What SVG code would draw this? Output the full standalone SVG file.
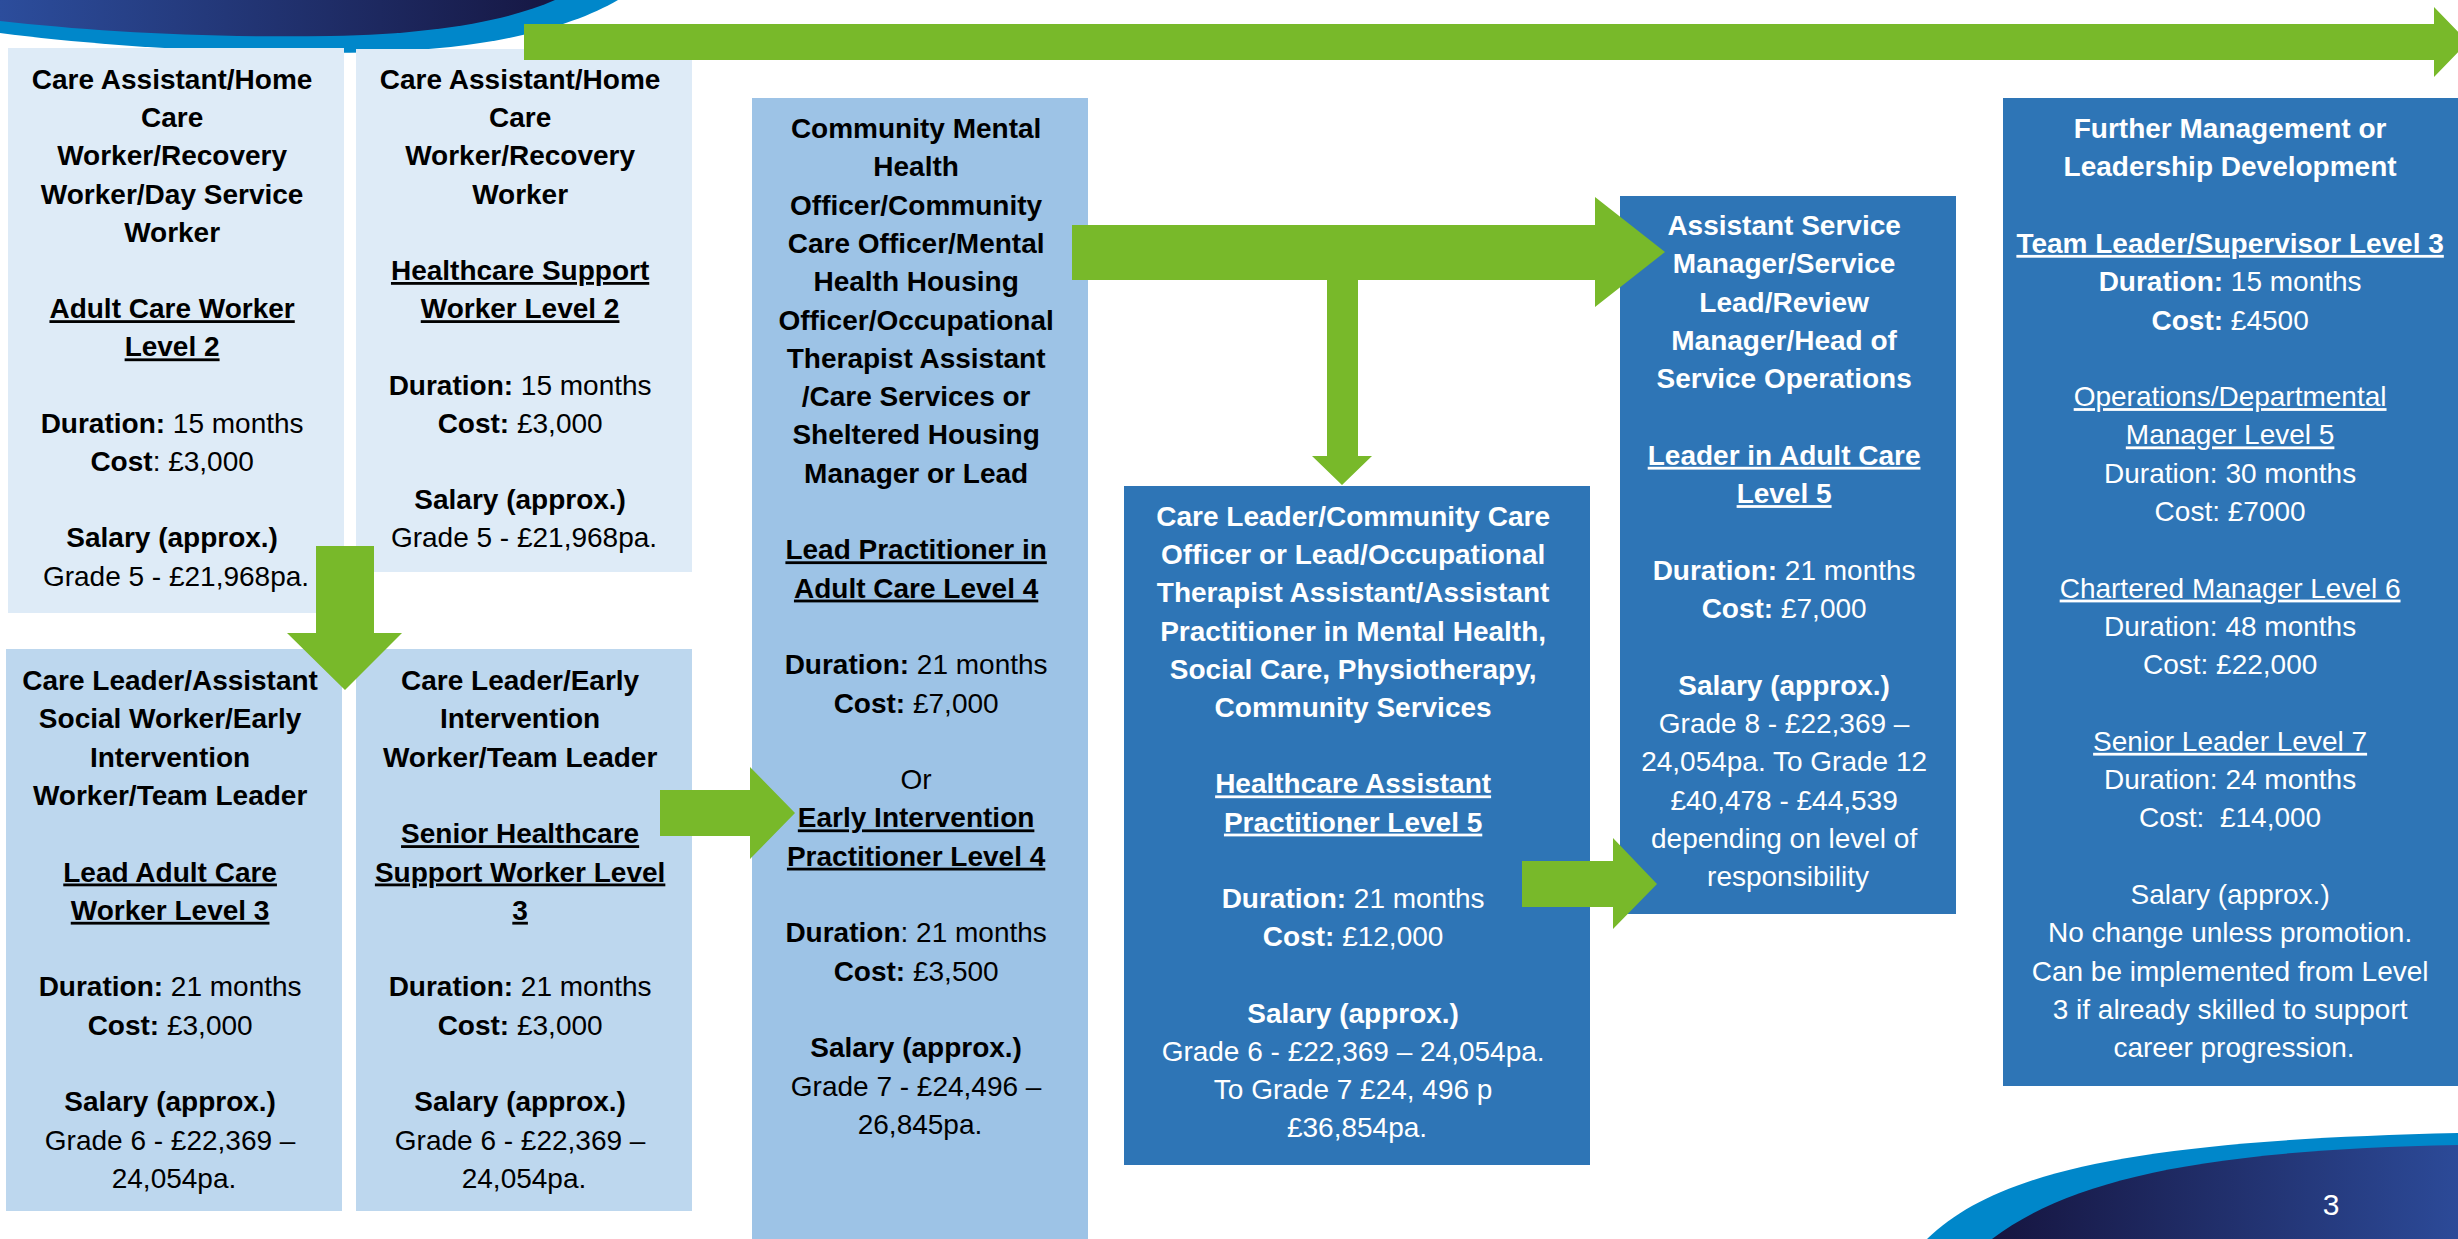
<svg xmlns="http://www.w3.org/2000/svg" width="2458" height="1239" viewBox="0 0 2458 1239">
<defs>
<linearGradient id="navyL" x1="0" y1="0" x2="1" y2="0"><stop offset="0" stop-color="#2C4D9C"/><stop offset="1" stop-color="#161743"/></linearGradient>
<linearGradient id="navyR" x1="0" y1="0" x2="1" y2="0"><stop offset="0" stop-color="#161540"/><stop offset="1" stop-color="#2C4A98"/></linearGradient>
<style>
.t{font-family:"Liberation Sans",Arial,sans-serif;font-size:28px;text-anchor:middle}
.k{fill:#000}
.w{fill:#fff}
.b{font-weight:bold}
.u{text-decoration:underline}
.arrow{fill:#78B92A}
.l1{fill:#DEEBF7}
.l2{fill:#BDD7EE}
.l3{fill:#9DC3E6}
.dk{fill:#2E75B6}
</style>
</defs>
<g id="decor">
<path d="M0,0 H618 C575,25 500,48 380,52 C250,56 100,46 0,33 Z" fill="#0087CA"/>
<path d="M0,0 H555 C505,22 430,34 330,36 C200,38 90,31 0,21 Z" fill="url(#navyL)"/>
<path d="M1927,1239 C2000,1168 2150,1140 2458,1133 V1239 Z" fill="#0087CA"/>
<path d="M1992,1239 C2070,1180 2200,1150 2458,1145 V1239 Z" fill="url(#navyR)"/>
<text x="2331" y="1215" class="t w" style="font-size:30px">3</text>
</g>
<g id="n1">
<rect x="8" y="48" width="336" height="565" class="l1"/>
<text class="t k">
<tspan x="176" y="89" class="b">Care Assistant/Home</tspan>
<tspan x="176" y="127.2" class="b">Care</tspan>
<tspan x="176" y="165.4" class="b">Worker/Recovery</tspan>
<tspan x="176" y="203.6" class="b">Worker/Day Service</tspan>
<tspan x="176" y="241.8" class="b">Worker</tspan>
<tspan x="176" y="318.2" class="b u">Adult Care Worker</tspan>
<tspan x="176" y="356.4" class="b u">Level 2</tspan>
<tspan x="176" y="432.8"><tspan class="b">Duration:</tspan> 15 months</tspan>
<tspan x="176" y="471"><tspan class="b">Cost</tspan>: £3,000</tspan>
<tspan x="176" y="547.4" class="b">Salary (approx.)</tspan>
<tspan x="176" y="585.6">Grade 5 - £21,968pa.</tspan>
</text>
</g>
<g id="n2">
<rect x="356" y="49" width="336" height="523" class="l1"/>
<text class="t k">
<tspan x="524" y="89" class="b">Care Assistant/Home</tspan>
<tspan x="524" y="127.2" class="b">Care</tspan>
<tspan x="524" y="165.4" class="b">Worker/Recovery</tspan>
<tspan x="524" y="203.6" class="b">Worker</tspan>
<tspan x="524" y="280" class="b u">Healthcare Support</tspan>
<tspan x="524" y="318.2" class="b u">Worker Level 2</tspan>
<tspan x="524" y="394.6"><tspan class="b">Duration:</tspan> 15 months</tspan>
<tspan x="524" y="432.8"><tspan class="b">Cost:</tspan> £3,000</tspan>
<tspan x="524" y="509.2" class="b">Salary (approx.)</tspan>
<tspan x="524" y="547.4">Grade 5 - £21,968pa.</tspan>
</text>
</g>
<g id="n3">
<rect x="6" y="649" width="336" height="562" class="l2"/>
<text class="t k">
<tspan x="174" y="690" class="b">Care Leader/Assistant</tspan>
<tspan x="174" y="728.3" class="b">Social Worker/Early</tspan>
<tspan x="174" y="766.6" class="b">Intervention</tspan>
<tspan x="174" y="804.9" class="b">Worker/Team Leader</tspan>
<tspan x="174" y="881.5" class="b u">Lead Adult Care</tspan>
<tspan x="174" y="919.8" class="b u">Worker Level 3</tspan>
<tspan x="174" y="996.4"><tspan class="b">Duration:</tspan> 21 months</tspan>
<tspan x="174" y="1034.7"><tspan class="b">Cost:</tspan> £3,000</tspan>
<tspan x="174" y="1111.3" class="b">Salary (approx.)</tspan>
<tspan x="174" y="1149.6">Grade 6 - £22,369 –</tspan>
<tspan x="174" y="1187.9">24,054pa.</tspan>
</text>
</g>
<g id="n4">
<rect x="356" y="649" width="336" height="562" class="l2"/>
<text class="t k">
<tspan x="524" y="690" class="b">Care Leader/Early</tspan>
<tspan x="524" y="728.3" class="b">Intervention</tspan>
<tspan x="524" y="766.6" class="b">Worker/Team Leader</tspan>
<tspan x="524" y="843.2" class="b u">Senior Healthcare</tspan>
<tspan x="524" y="881.5" class="b u">Support Worker Level</tspan>
<tspan x="524" y="919.8" class="b u">3</tspan>
<tspan x="524" y="996.4"><tspan class="b">Duration:</tspan> 21 months</tspan>
<tspan x="524" y="1034.7"><tspan class="b">Cost:</tspan> £3,000</tspan>
<tspan x="524" y="1111.3" class="b">Salary (approx.)</tspan>
<tspan x="524" y="1149.6">Grade 6 - £22,369 –</tspan>
<tspan x="524" y="1187.9">24,054pa.</tspan>
</text>
</g>
<g id="n5">
<rect x="752" y="98" width="336" height="1141" class="l3"/>
<text class="t k">
<tspan x="920" y="138" class="b">Community Mental</tspan>
<tspan x="920" y="176.3" class="b">Health</tspan>
<tspan x="920" y="214.6" class="b">Officer/Community</tspan>
<tspan x="920" y="252.9" class="b">Care Officer/Mental</tspan>
<tspan x="920" y="291.2" class="b">Health Housing</tspan>
<tspan x="920" y="329.5" class="b">Officer/Occupational</tspan>
<tspan x="920" y="367.8" class="b">Therapist Assistant</tspan>
<tspan x="920" y="406.1" class="b">/Care Services or</tspan>
<tspan x="920" y="444.4" class="b">Sheltered Housing</tspan>
<tspan x="920" y="482.7" class="b">Manager or Lead</tspan>
<tspan x="920" y="559.3" class="b u">Lead Practitioner in</tspan>
<tspan x="920" y="597.6" class="b u">Adult Care Level 4</tspan>
<tspan x="920" y="674.2"><tspan class="b">Duration:</tspan> 21 months</tspan>
<tspan x="920" y="712.5"><tspan class="b">Cost:</tspan> £7,000</tspan>
<tspan x="920" y="789.1">Or</tspan>
<tspan x="920" y="827.4" class="b u">Early Intervention</tspan>
<tspan x="920" y="865.7" class="b u">Practitioner Level 4</tspan>
<tspan x="920" y="942.3"><tspan class="b">Duration</tspan>: 21 months</tspan>
<tspan x="920" y="980.6"><tspan class="b">Cost:</tspan> £3,500</tspan>
<tspan x="920" y="1057.2" class="b">Salary (approx.)</tspan>
<tspan x="920" y="1095.5">Grade 7 - £24,496 –</tspan>
<tspan x="920" y="1133.8">26,845pa.</tspan>
</text>
</g>
<g id="n6">
<rect x="1124" y="486" width="466" height="679" class="dk"/>
<text class="t w">
<tspan x="1357" y="526" class="b">Care Leader/Community Care</tspan>
<tspan x="1357" y="564.2" class="b">Officer or Lead/Occupational</tspan>
<tspan x="1357" y="602.4" class="b">Therapist Assistant/Assistant</tspan>
<tspan x="1357" y="640.6" class="b">Practitioner in Mental Health,</tspan>
<tspan x="1357" y="678.8" class="b">Social Care, Physiotherapy,</tspan>
<tspan x="1357" y="717" class="b">Community Services</tspan>
<tspan x="1357" y="793.4" class="b u">Healthcare Assistant</tspan>
<tspan x="1357" y="831.6" class="b u">Practitioner Level 5</tspan>
<tspan x="1357" y="908"><tspan class="b">Duration:</tspan> 21 months</tspan>
<tspan x="1357" y="946.2"><tspan class="b">Cost:</tspan> £12,000</tspan>
<tspan x="1357" y="1022.6" class="b">Salary (approx.)</tspan>
<tspan x="1357" y="1060.8">Grade 6 - £22,369 – 24,054pa.</tspan>
<tspan x="1357" y="1099">To Grade 7 £24, 496 p</tspan>
<tspan x="1357" y="1137.2">£36,854pa.</tspan>
</text>
</g>
<g id="n7">
<rect x="1620" y="196" width="336" height="718" class="dk"/>
<text class="t w">
<tspan x="1788" y="235" class="b">Assistant Service</tspan>
<tspan x="1788" y="273.3" class="b">Manager/Service</tspan>
<tspan x="1788" y="311.6" class="b">Lead/Review</tspan>
<tspan x="1788" y="349.9" class="b">Manager/Head of</tspan>
<tspan x="1788" y="388.2" class="b">Service Operations</tspan>
<tspan x="1788" y="464.8" class="b u">Leader in Adult Care</tspan>
<tspan x="1788" y="503.1" class="b u">Level 5</tspan>
<tspan x="1788" y="579.7"><tspan class="b">Duration:</tspan> 21 months</tspan>
<tspan x="1788" y="618"><tspan class="b">Cost:</tspan> £7,000</tspan>
<tspan x="1788" y="694.6" class="b">Salary (approx.)</tspan>
<tspan x="1788" y="732.9">Grade 8 - £22,369 –</tspan>
<tspan x="1788" y="771.2">24,054pa. To Grade 12</tspan>
<tspan x="1788" y="809.5">£40,478 - £44,539</tspan>
<tspan x="1788" y="847.8">depending on level of</tspan>
<tspan x="1788" y="886.1">responsibility</tspan>
</text>
</g>
<g id="n8">
<rect x="2003" y="98" width="460" height="988" class="dk"/>
<text class="t w">
<tspan x="2234" y="138" class="b">Further Management or</tspan>
<tspan x="2234" y="176.3" class="b">Leadership Development</tspan>
<tspan x="2234" y="252.9" class="b u">Team Leader/Supervisor Level 3</tspan>
<tspan x="2234" y="291.2"><tspan class="b">Duration:</tspan> 15 months</tspan>
<tspan x="2234" y="329.5"><tspan class="b">Cost:</tspan> £4500</tspan>
<tspan x="2234" y="406.1" class="u">Operations/Departmental</tspan>
<tspan x="2234" y="444.4" class="u">Manager Level 5</tspan>
<tspan x="2234" y="482.7">Duration: 30 months</tspan>
<tspan x="2234" y="521">Cost: £7000</tspan>
<tspan x="2234" y="597.6" class="u">Chartered Manager Level 6</tspan>
<tspan x="2234" y="635.9">Duration: 48 months</tspan>
<tspan x="2234" y="674.2">Cost: £22,000</tspan>
<tspan x="2234" y="750.8" class="u">Senior Leader Level 7</tspan>
<tspan x="2234" y="789.1">Duration: 24 months</tspan>
<tspan x="2234" y="827.4" xml:space="preserve">Cost:  £14,000</tspan>
<tspan x="2234" y="904">Salary (approx.)</tspan>
<tspan x="2234" y="942.3">No change unless promotion.</tspan>
<tspan x="2234" y="980.6">Can be implemented from Level</tspan>
<tspan x="2234" y="1018.9">3 if already skilled to support</tspan>
<tspan x="2234" y="1057.2">career progression.</tspan>
</text>
</g>
<g id="connectors">
<path class="arrow" d="M524,24 H2434 V7 L2468,42 L2434,77 V60 H524 Z"/>
<path class="arrow" d="M316,546 H374 V633 H402 L345,690 L287,633 H316 Z"/>
<path class="arrow" d="M660,790 H750 V767 L795,813 L750,859 V836 H660 Z"/>
<path class="arrow" d="M1072,225 H1595 V197 L1665,252 L1595,307 V280 H1358 V456 H1372 L1342,485 L1312,456 H1327 V280 H1072 Z"/>
<path class="arrow" d="M1522,861 H1613 V838 L1657,884 L1613,929 V907 H1522 Z"/>
</g>
</svg>
